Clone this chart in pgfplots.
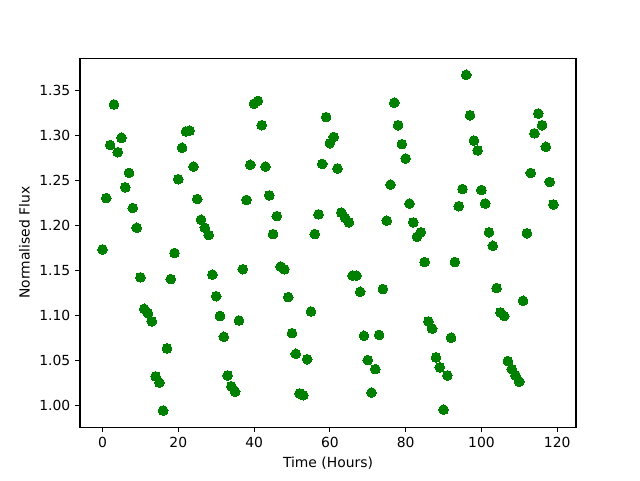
\documentclass[border=0pt]{standalone}
\usepackage{pgfplots}
\pgfplotsset{compat=1.18}
\usepackage{fontspec}
\setmainfont{DejaVu Sans}
\definecolor{mplgreen}{RGB}{0,128,0}
\begin{document}
\begin{tikzpicture}
\begin{axis}[
  scale only axis,
  width=357.1pt, height=265.7pt,
  xmin=-5.95, xmax=124.95,
  ymin=0.9756, ymax=1.3856,
  xtick={0,20,40,60,80,100,120},
  ytick={1.00,1.05,1.10,1.15,1.20,1.25,1.30,1.35},
  yticklabel style={/pgf/number format/.cd, fixed, fixed zerofill, precision=2},
  /pgf/number format/assume math mode=true,
  tick align=outside,
  tick pos=left,
  major tick length=3.5pt,
  tick style={black, line width=0.8pt},
  axis line style={line width=0.8pt},
  ticklabel style={font=\fontsize{10}{12}\selectfont},
  label style={font=\fontsize{10}{12}\selectfont},
  xlabel={Time (Hours)},
  ylabel={Normalised Flux},
]
\addplot[only marks, mark=*, mark size=3.5pt, color=mplgreen, mark options={fill=mplgreen, draw=mplgreen, line width=0pt}] table {
x y
0 1.173
1 1.230
2 1.289
3 1.334
4 1.281
5 1.297
6 1.242
7 1.258
8 1.219
9 1.197
10 1.142
11 1.107
12 1.102
13 1.093
14 1.032
15 1.025
16 0.994
17 1.063
18 1.140
19 1.169
20 1.251
21 1.286
22 1.304
23 1.305
24 1.265
25 1.229
26 1.206
27 1.197
28 1.189
29 1.145
30 1.121
31 1.099
32 1.076
33 1.033
34 1.021
35 1.015
36 1.094
37 1.151
38 1.228
39 1.267
40 1.335
41 1.338
42 1.311
43 1.265
44 1.233
45 1.190
46 1.210
47 1.154
48 1.151
49 1.120
50 1.080
51 1.057
52 1.013
53 1.011
54 1.051
55 1.104
56 1.190
57 1.212
58 1.268
59 1.320
60 1.291
61 1.298
62 1.263
63 1.214
64 1.208
65 1.203
66 1.144
67 1.144
68 1.126
69 1.077
70 1.050
71 1.014
72 1.040
73 1.078
74 1.129
75 1.205
76 1.245
77 1.336
78 1.311
79 1.290
80 1.274
81 1.224
82 1.203
83 1.187
84 1.192
85 1.159
86 1.093
87 1.085
88 1.053
89 1.042
90 0.995
91 1.033
92 1.075
93 1.159
94 1.221
95 1.240
96 1.367
97 1.322
98 1.294
99 1.283
100 1.239
101 1.224
102 1.192
103 1.177
104 1.130
105 1.103
106 1.099
107 1.049
108 1.040
109 1.033
110 1.026
111 1.116
112 1.191
113 1.258
114 1.302
115 1.324
116 1.311
117 1.287
118 1.248
119 1.223
};
\end{axis}
\path (current axis.south west) ++(-57.6pt,-38.2pt) coordinate (bl);
\path (current axis.north east) ++(46.1pt,41.8pt) coordinate (tr);
\useasboundingbox (bl) rectangle (tr);
\end{tikzpicture}
\end{document}
